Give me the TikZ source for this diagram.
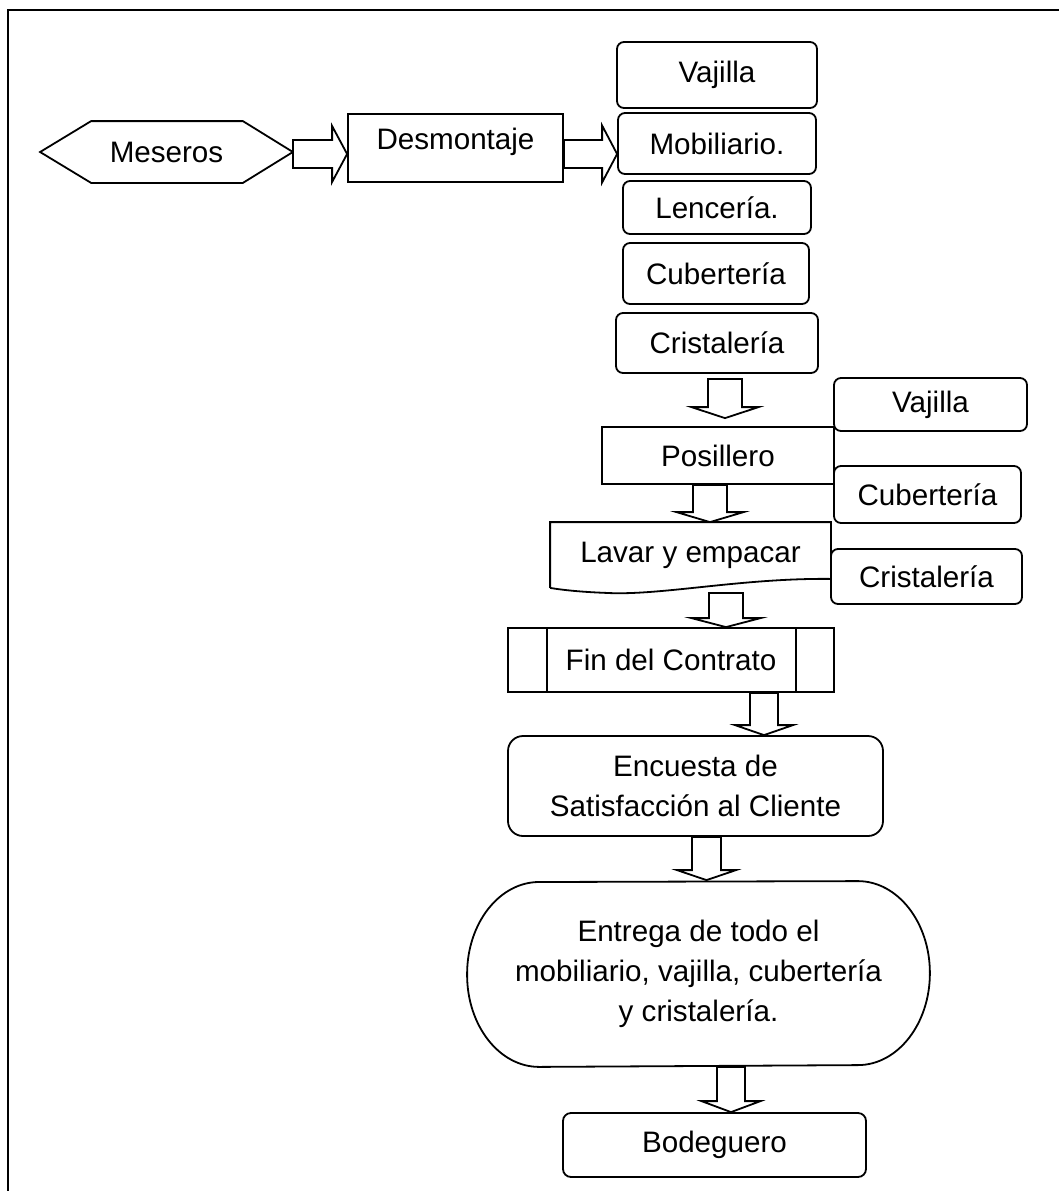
\documentclass[tikz,border=0pt]{standalone}
\usepackage{fontspec}
\setmainfont{Liberation Sans}
\usetikzlibrary{calc}

% Block arrow pointing down: #1 tail point, #2 tip point, #3 shaft half-width,
% #4 head half-width, #5 head length (lengths in pt)
\newcommand\blkdown[5]{%
  \draw[blockarrow] let \p1=#1, \p2=#2 in
    (\x1-#3,\y1) -- (\x1-#3,\y2+#5) -- (\x1-#4,\y2+#5) -- (\x1,\y2)
    -- (\x1+#4,\y2+#5) -- (\x1+#3,\y2+#5) -- (\x1+#3,\y1) -- cycle;}
% Block arrow pointing right, same arguments
\newcommand\blkright[5]{%
  \draw[blockarrow] let \p1=#1, \p2=#2 in
    (\x1,\y1+#3) -- (\x2-#5,\y1+#3) -- (\x2-#5,\y1+#4) -- (\x2,\y1)
    -- (\x2-#5,\y1-#4) -- (\x2-#5,\y1-#3) -- (\x1,\y1-#3) -- cycle;}

\begin{document}
\begin{tikzpicture}[x=0.5pt,y=-0.5pt,
  line width=0.9pt,
  every node/.style={font=\fontsize{14.8}{20}\selectfont, align=center, inner sep=0pt},
  plainbox/.style={draw, fill=white, rectangle},
  roundbox/.style={draw, fill=white, rectangle, rounded corners=3.5pt},
  blockarrow/.style={draw, fill=white, line join=miter},
  frameline/.style={draw, line width=1pt}]

\useasboundingbox (0,0) rectangle (1059,1191);
\clip (0,0) rectangle (1059,1191);

% page frame
\draw[frameline] (8,1200) -- (8,10) -- (1070,10);

% first row
\node (mes) [minimum width=125.5pt, minimum height=30pt] at (166.5,152) {Meseros};
\draw ($(mes.north west)+(51,0)$) -- ($(mes.north east)+(-50,0)$) -- (mes.east)
      -- ($(mes.south east)+(-50,0)$) -- ($(mes.south west)+(51,0)$) -- (mes.west) -- cycle;
\node (desm) [plainbox, minimum width=107.5pt, minimum height=34pt, text depth=9pt] at (455.5,148) {Desmontaje};

% items collected
\node (vaj1)   [roundbox, minimum width=100pt,  minimum height=33pt]   at (717,75)    {Vajilla};
\node (mob)    [roundbox, minimum width=99pt,   minimum height=30.5pt] at (717,143.5) {Mobiliario.};
\node (len)    [roundbox, minimum width=94pt,   minimum height=26.5pt] at (717,207.5) {Lencería.};
\node (cub1)   [roundbox, minimum width=93pt,   minimum height=30.5pt] at (716,273.5) {Cubertería};
\node (crist1) [roundbox, minimum width=101pt,  minimum height=30pt]   at (717,343)   {Cristalería};

\blkright{($(mes.east)+(0,2)$)}{(desm.west)}{7pt}{14pt}{7.5pt}
\blkright{($(desm.east)+(0,6)$)}{(mob.west)}{7pt}{14.25pt}{7.5pt}

% washing
\node (pos) [plainbox, minimum width=116pt, minimum height=28.5pt] at (718,455.5) {Posillero};
\node (vaj2)   [roundbox, minimum width=96.5pt, minimum height=26.5pt] at (930.5,404.5) {Vajilla};
\node (cub2)   [roundbox, minimum width=93.5pt, minimum height=28.5pt] at (927.5,494.5) {Cubertería};
\node (crist2) [roundbox, minimum width=95.5pt, minimum height=27.5pt] at (926.5,576.5) {Cristalería};

\node (lav) [minimum width=139.5pt, minimum height=32pt] at (690.5,555) {Lavar y empacar};
\draw (lav.south west) -- (lav.north west) -- (lav.north east) -- ($(lav.south east)+(0,-9)$)
      .. controls ($(lav.south east)+(-90,-10)$) and ($(lav.south west)+(110,8)$) .. ($(lav.south west)+(56,5)$)
      .. controls ($(lav.south west)+(30,4)$) and ($(lav.south west)+(12,2)$) .. (lav.south west);

\blkdown{($(crist1.south)+(8,5)$)}{($(pos.north)+(0,-8)$)}{8.5pt}{16.75pt}{5.5pt}
\blkdown{($(pos.south)+(-8,0)$)}{(lav.north)}{8.5pt}{16.75pt}{5pt}

% closing
\node (fin) [plainbox, minimum width=163pt, minimum height=32pt] at (671,660) {Fin del Contrato};
\draw ($(fin.north west)+(40,0)$) -- ($(fin.south west)+(40,0)$);
\draw ($(fin.north east)+(-39,0)$) -- ($(fin.south east)+(-39,0)$);
\blkdown{($(lav.south)+(35.5,5)$)}{(fin.north)}{8.5pt}{17.25pt}{4.5pt}

\node (enc) [draw, rounded corners=7.5pt, minimum width=187.5pt, minimum height=50pt] at (695.5,786)
  {Encuesta de\\Satisfacción al Cliente};
\blkdown{($(fin.south)+(93,0)$)}{(enc.north)}{7pt}{14.5pt}{5pt}

\node (ent) [minimum width=230.5pt, minimum height=92pt] at (698.5,974)
  {Entrega de todo el\\mobiliario, vajilla, cubertería\\y cristalería.};
\draw (ent.west)
      arc[start angle=180, end angle=90, x radius=36pt, y radius=46pt]
      -- ($(ent.north east)+(-72,0)$)
      arc[start angle=90, end angle=-90, x radius=36pt, y radius=46pt]
      -- ($(ent.south west)+(72,0)$)
      arc[start angle=270, end angle=180, x radius=36pt, y radius=46pt] -- cycle;
\blkdown{($(enc.south)+(11,0)$)}{($(ent.north)+(0,-1)$)}{7.25pt}{14.75pt}{5pt}

\node (bod) [draw, rounded corners=4pt, minimum width=151.5pt, minimum height=32pt] at (714.5,1145) {Bodeguero};
\blkdown{($(ent.south)+(32.5,0)$)}{(bod.north)}{7pt}{14.75pt}{5.5pt}

\end{tikzpicture}
\end{document}
